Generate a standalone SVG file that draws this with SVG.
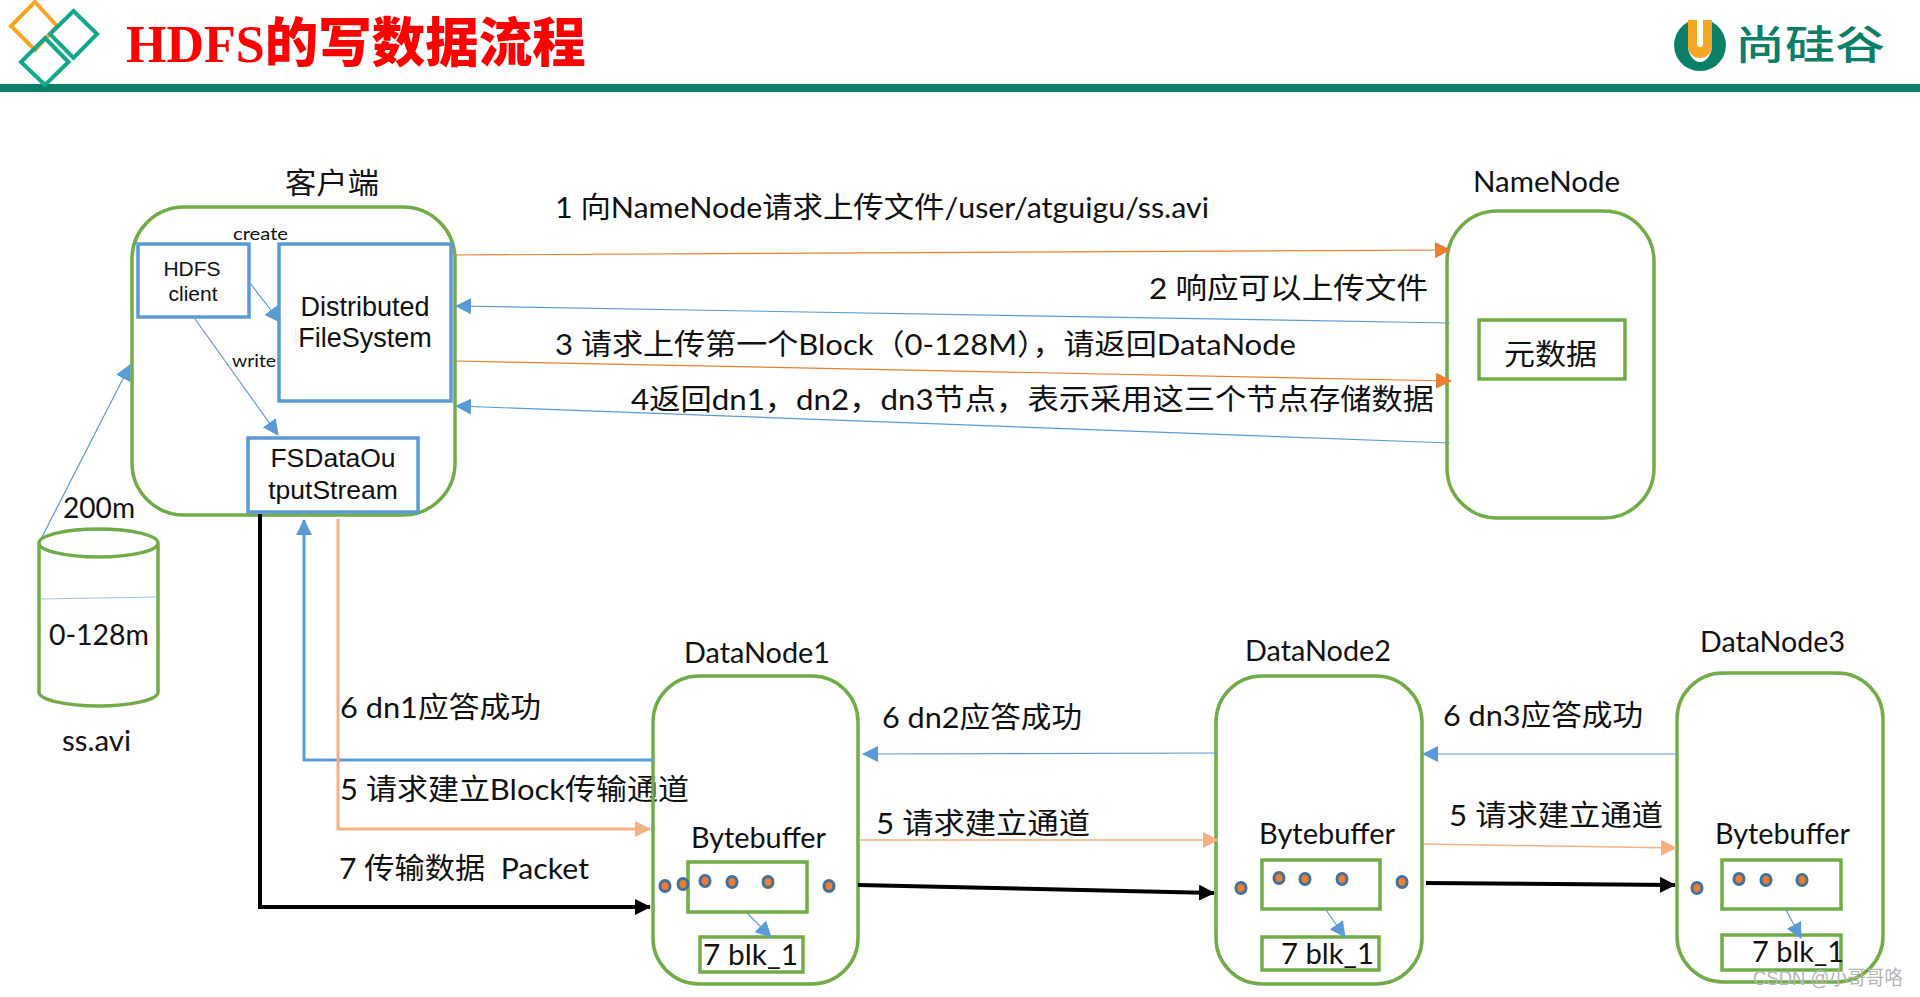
<svg xmlns="http://www.w3.org/2000/svg" width="1920" height="997" viewBox="0 0 1920 997">
<style>
text{fill:#111;white-space:pre}
.t{font-family:"Lato","Noto Sans CJK SC",sans-serif;font-size:29px}
.s{font-family:"Liberation Sans",Arial,sans-serif;font-size:26.500px;text-anchor:middle}
.r{fill:#fff;stroke:#70AD47;stroke-width:3.500}
.b{fill:#fff;stroke:#5B9BD5;stroke-width:3.500}
.g{fill:#fff;stroke:#70AD47;stroke-width:3.500}
.d{fill:#ED7D31;stroke:#41719C;stroke-width:3}
.cb{fill:none;stroke:#5B9BD5;stroke-width:1.200}
.co{fill:none;stroke:#ED7D31;stroke-width:1.200}
.cp{fill:none;stroke:#F4B183;stroke-width:1.500}
.ck{fill:none;stroke:#000;stroke-width:4}
</style>
<defs>
<marker id="ab" markerUnits="userSpaceOnUse" markerWidth="16" markerHeight="16" viewBox="0 0 16 16" refX="15" refY="8" orient="auto"><path d="M0 0L16 8L0 16Z" fill="#5B9BD5"/></marker>
<marker id="ao" markerUnits="userSpaceOnUse" markerWidth="16" markerHeight="16" viewBox="0 0 16 16" refX="15" refY="8" orient="auto"><path d="M0 0L16 8L0 16Z" fill="#ED7D31"/></marker>
<marker id="ap" markerUnits="userSpaceOnUse" markerWidth="16" markerHeight="16" viewBox="0 0 16 16" refX="15" refY="8" orient="auto"><path d="M0 0L16 8L0 16Z" fill="#F4B183"/></marker>
<marker id="ak" markerUnits="userSpaceOnUse" markerWidth="16" markerHeight="16" viewBox="0 0 16 16" refX="15" refY="8" orient="auto"><path d="M0 0L16 8L0 16Z" fill="#000"/></marker>
</defs>
<rect width="1920" height="997" fill="#fff"/>
<g id="header">
<rect x="0" y="84" width="1920" height="8" fill="#0B7F68"/>
<path d="M35 2L57 26L35 50L11 26Z" fill="none" stroke="#F5A623" stroke-width="4"/>
<path d="M73.500 11L97 34L73.500 58L50 34Z" fill="none" stroke="#12A88E" stroke-width="4"/>
<path d="M45 38L68.500 62L45 85L21 62Z" fill="none" stroke="#12A88E" stroke-width="4"/>
<text x="126" y="62" style="font-family:'Liberation Serif','Noto Sans CJK SC',serif;font-weight:700;font-size:52px;fill:#f00">HDFS<tspan style="font-family:'Noto Sans CJK SC',sans-serif;font-weight:900;font-size:53.500px">的写数据流程</tspan></text>
<path d="M1688 22A26 26 0 1 0 1712 22V45A12 17 0 0 1 1688 45Z" fill="#0B7F68"/>
<path d="M1688 20H1697V44A3 3 0 0 0 1703 44V20H1712V46A12 12 0 0 1 1688 46Z" fill="#F5A623"/>
<text transform="translate(1735 59) scale(1.25 1)" style="font-family:'Noto Sans CJK SC',sans-serif;font-weight:500;font-size:40px;fill:#0B7F68">尚硅谷</text>
</g>
<g id="client">
<rect class="r" x="132" y="207" width="323" height="308" rx="52"/>
<text class="t" x="285" y="194" textLength="94" lengthAdjust="spacingAndGlyphs">客户端</text>
<text class="t" style="font-size:18px" x="233" y="240" textLength="55" lengthAdjust="spacingAndGlyphs">create</text>
<text class="t" style="font-size:18px" x="232" y="367" textLength="44" lengthAdjust="spacingAndGlyphs">write</text>
</g>
<g id="hdfs-client">
<rect class="b" x="138" y="244" width="111" height="73"/>
<text class="s" style="font-size:21px" x="192" y="276">HDFS</text>
<text class="s" style="font-size:21px" x="193" y="301">client</text>
</g>
<g id="distributed-filesystem">
<rect class="b" x="279" y="244" width="172" height="157" fill-opacity="0"/>
<text class="s" style="font-size:27px" x="365" y="316">Distributed</text>
<text class="s" style="font-size:27px" x="365" y="347">FileSystem</text>
</g>
<g id="fsdataoutputstream">
<rect class="b" x="248" y="438" width="170" height="74"/>
<text class="s" x="333" y="467">FSDataOu</text>
<text class="s" x="333" y="499">tputStream</text>
</g>
<g id="ss-avi">
<path d="M39 543V692A59.500 14 0 0 0 158 692V543A59.500 14 0 0 0 39 543A59.500 14 0 0 0 158 543" fill="#fff" stroke="#70AD47" stroke-width="3.500"/>
<path d="M40 599L157 597" stroke="#9DC3E6" fill="none"/>
<text class="t" x="63" y="518" textLength="72" lengthAdjust="spacingAndGlyphs">200m</text>
<text class="t" x="49" y="645" textLength="100" lengthAdjust="spacingAndGlyphs">0-128m</text>
<text class="t" x="62" y="751" textLength="69" lengthAdjust="spacingAndGlyphs">ss.avi</text>
</g>
<g id="namenode">
<rect class="r" x="1447" y="211" width="207" height="307" rx="50"/>
<rect class="g" x="1479" y="320" width="146" height="59"/>
<text class="t" x="1473" y="192" textLength="147" lengthAdjust="spacingAndGlyphs">NameNode</text>
<text class="t" x="1504" y="365" textLength="93" lengthAdjust="spacingAndGlyphs">元数据</text>
</g>
<g id="labels">
<text class="t" x="555" y="218" textLength="654" lengthAdjust="spacingAndGlyphs">1 向NameNode请求上传文件/user/atguigu/ss.avi</text>
<text class="t" x="1149" y="299" textLength="279" lengthAdjust="spacingAndGlyphs">2 响应可以上传文件</text>
<text class="t" x="555" y="355" textLength="741" lengthAdjust="spacingAndGlyphs">3 请求上传第一个Block（0-128M），请返回DataNode</text>
<text class="t" x="631" y="410" textLength="803" lengthAdjust="spacingAndGlyphs">4返回dn1，dn2，dn3节点，表示采用这三个节点存储数据</text>
<text class="t" x="340" y="718" textLength="201" lengthAdjust="spacingAndGlyphs">6 dn1应答成功</text>
<text class="t" x="340" y="800" textLength="349" lengthAdjust="spacingAndGlyphs">5 请求建立Block传输通道</text>
<text class="t" x="339" y="879" textLength="250" lengthAdjust="spacingAndGlyphs">7 传输数据  Packet</text>
<text class="t" x="882" y="728" textLength="200" lengthAdjust="spacingAndGlyphs">6 dn2应答成功</text>
<text class="t" x="876" y="834" textLength="214" lengthAdjust="spacingAndGlyphs">5 请求建立通道</text>
<text class="t" x="1443" y="726" textLength="200" lengthAdjust="spacingAndGlyphs">6 dn3应答成功</text>
<text class="t" x="1449" y="826" textLength="214" lengthAdjust="spacingAndGlyphs">5 请求建立通道</text>
</g>
<g id="datanode1">
<rect class="r" x="653" y="676" width="205" height="308" rx="46" fill-opacity="0"/>
<text class="t" x="684" y="663" textLength="146" lengthAdjust="spacingAndGlyphs">DataNode1</text>
<text class="t" x="691" y="848" textLength="135" lengthAdjust="spacingAndGlyphs">Bytebuffer</text>
<rect class="g" x="688" y="862" width="119" height="50"/>
<ellipse class="d" cx="665" cy="886" rx="5" ry="5.500"/><ellipse class="d" cx="683" cy="884" rx="5" ry="5.500"/><ellipse class="d" cx="705" cy="881" rx="5" ry="5.500"/><ellipse class="d" cx="732" cy="882" rx="5" ry="5.500"/><ellipse class="d" cx="768" cy="882" rx="5" ry="5.500"/><ellipse class="d" cx="829" cy="886" rx="5" ry="5.500"/>
<rect class="g" x="700" y="937" width="103" height="35"/>
<text class="t" x="703" y="965" textLength="95" lengthAdjust="spacingAndGlyphs">7 blk_1</text>
</g>
<g id="datanode2">
<rect class="r" x="1216" y="676" width="206" height="308" rx="46" fill-opacity="0"/>
<text class="t" x="1245" y="661" textLength="146" lengthAdjust="spacingAndGlyphs">DataNode2</text>
<text class="t" x="1259" y="844" textLength="136" lengthAdjust="spacingAndGlyphs">Bytebuffer</text>
<rect class="g" x="1262" y="860" width="118" height="49"/>
<ellipse class="d" cx="1241" cy="888" rx="5" ry="5.500"/><ellipse class="d" cx="1279" cy="878" rx="5" ry="5.500"/><ellipse class="d" cx="1305" cy="879" rx="5" ry="5.500"/><ellipse class="d" cx="1342" cy="879" rx="5" ry="5.500"/><ellipse class="d" cx="1402" cy="882" rx="5" ry="5.500"/>
<rect class="g" x="1262" y="937" width="117" height="33"/>
<text class="t" x="1281" y="964" textLength="93" lengthAdjust="spacingAndGlyphs">7 blk_1</text>
</g>
<g id="datanode3">
<rect class="r" x="1677" y="673" width="206" height="309" rx="46" fill-opacity="0"/>
<text class="t" x="1700" y="652" textLength="145" lengthAdjust="spacingAndGlyphs">DataNode3</text>
<text class="t" x="1715" y="844" textLength="135" lengthAdjust="spacingAndGlyphs">Bytebuffer</text>
<rect class="g" x="1722" y="860" width="119" height="49"/>
<ellipse class="d" cx="1697" cy="888" rx="5" ry="5.500"/><ellipse class="d" cx="1739" cy="879" rx="5" ry="5.500"/><ellipse class="d" cx="1766" cy="880" rx="5" ry="5.500"/><ellipse class="d" cx="1802" cy="880" rx="5" ry="5.500"/>
<rect class="g" x="1722" y="935" width="119" height="35"/>
<text class="t" x="1752" y="962" textLength="92" lengthAdjust="spacingAndGlyphs">7 blk_1</text>
</g>
<g id="connectors">
<path class="cb" d="M42 537L130 365" marker-end="url(#ab)"/>
<path class="cb" d="M250 283L280 322" marker-end="url(#ab)"/>
<path class="cb" d="M195 319L278 435" marker-end="url(#ab)"/>
<path class="co" d="M455 255L1450 250" marker-end="url(#ao)"/>
<path class="cb" d="M1450 323L456 306" marker-end="url(#ab)"/>
<path class="co" d="M455 361L1451 381" marker-end="url(#ao)"/>
<path class="cb" d="M1450 443L456 406" marker-end="url(#ab)"/>
<path class="ck" d="M260 514V907H650" marker-end="url(#ak)"/>
<path class="cb" style="stroke-width:3" d="M653 760H304V520" marker-end="url(#ab)"/>
<path class="cp" style="stroke-width:3" d="M338 519V829H650" marker-end="url(#ap)"/>
<path class="cb" d="M1218 753L863 754" marker-end="url(#ab)"/>
<path class="cp" d="M859 840H1218" marker-end="url(#ap)"/>
<path class="ck" d="M858 885L1214 893" marker-end="url(#ak)"/>
<path class="cb" d="M1677 754H1423" marker-end="url(#ab)"/>
<path class="cp" d="M1423 844L1676 848" marker-end="url(#ap)"/>
<path class="ck" d="M1426 883L1675 885" marker-end="url(#ak)"/>
<path class="cb" d="M747 913L771 937" marker-end="url(#ab)"/>
<path class="cb" d="M1326 910L1345 937" marker-end="url(#ab)"/>
<path class="cb" d="M1786 910L1801 938" marker-end="url(#ab)"/>
</g>
<text x="1753" y="985" style="font-family:'Liberation Sans','Noto Sans CJK SC',sans-serif;font-size:20px;fill:#b5b5b5" textLength="150" lengthAdjust="spacingAndGlyphs">CSDN @小哥哥咯</text>
</svg>
